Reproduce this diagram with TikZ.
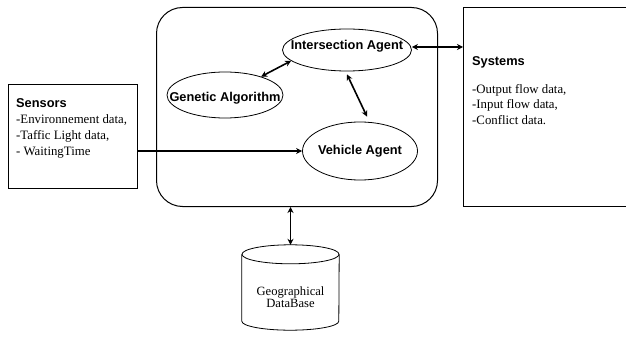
\documentclass[tikz,border=0pt]{standalone}
\usepackage{fontspec}
\setmainfont{Liberation Serif}
\setsansfont{Liberation Sans}
\usetikzlibrary{arrows.meta,shapes.geometric}
\newcommand{\headfont}{\sffamily\bfseries}
\begin{document}
\begin{tikzpicture}[x=1pt,y=-1pt,
  box/.style={draw, line width=0.8pt, inner sep=0pt},
  agent/.style={draw, ellipse, line width=0.8pt, inner sep=0pt},
  agenttext/.style={font=\headfont\fontsize{12.8}{15}\selectfont, inner sep=0pt},
  body/.style={font=\fontsize{12.8}{16}\selectfont, align=left, inner sep=0pt},
  tip/.tip={Stealth[length=6pt,width=6pt]},
  link/.style={line width=1.6pt, tip-tip},
  feed/.style={line width=1.6pt, -tip}
]
\clip (0,0) rectangle (626,339);
\fill[white] (0,0) rectangle (626,339);

% agent platform
\node[box, rounded corners=26pt, line width=1pt, minimum width=281pt,
      minimum height=199pt, anchor=north west] (core) at (156,7) {};

% agents
\node[agent, minimum width=129pt, minimum height=42pt,
      label={[agenttext, yshift=4pt]center:Intersection Agent}] (ia) at (347,50) {};
\node[agent, minimum width=116pt, minimum height=46pt,
      label={[agenttext, yshift=-3pt]center:Genetic Algorithm}] (ga) at (225,95) {};
\node[agent, minimum width=115pt, minimum height=58pt,
      label={[agenttext]center:Vehicle Agent}] (va) at (360,151) {};

% sensors
\node[box, minimum width=129pt, minimum height=104pt, anchor=north west] (sens) at (8,84) {};
\node[body, anchor=north west] (senstext) at (16,98.5)
  {{\headfont Sensors}\\-Environnement data,\\-Taffic Light data,\\- WaitingTime};

% systems
\node[box, minimum width=180pt, minimum height=199pt, anchor=north west] (sys) at (463,7) {};
\node[body, anchor=north west, font=\fontsize{12.8}{15.5}\selectfont] (systext) at (472,56.5)
  {{\headfont Systems}\\[12pt]-Output flow data,\\-Input flow data,\\-Conflict data.};

% database
\node[minimum width=97pt, minimum height=85pt, inner sep=0pt] (db) at (290.5,287.5) {};
\draw[line width=0.8pt] ([yshift=-9.5pt]db.north) ellipse [x radius=48.5, y radius=9.5];
\draw[line width=0.8pt] ([yshift=-9.5pt]db.north west) -- ([yshift=9pt]db.south west)
  arc[start angle=180, end angle=0, x radius=48.5, y radius=9]
  -- ([yshift=-9.5pt]db.north east);
\node[font=\fontsize{12.6}{12.5}\selectfont, align=center, inner sep=0pt] (dbtext)
  at ([yshift=-9.5pt]db.center) {Geographical\\DataBase};

% connectors
\coordinate (iaeast) at ([yshift=3pt]ia.east);
\draw[link] (ga.27) -- (ia.191);
\draw[link] ([yshift=-3pt]ia.south) -- ([xshift=7pt,yshift=5pt]va.north);
\draw[feed] (sens.east |- va.west) -- (va.west);
\draw[link] (iaeast) -- (sys.west |- iaeast);
\draw[link] (db.north) -- (db.north |- core.south);
\end{tikzpicture}
\end{document}
